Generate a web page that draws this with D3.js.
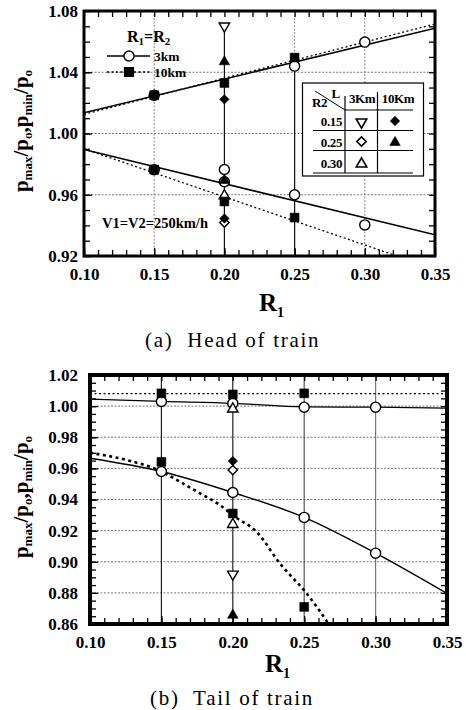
<!DOCTYPE html>
<html><head><meta charset="utf-8">
<script src="https://cdn.jsdelivr.net/npm/d3@7"></script>
<style>
body{margin:0;background:#fff}
svg{display:block}
text{font-family:"Liberation Serif","Times New Roman",serif;fill:#000}
</style>
</head><body>
<svg id="c" width="466" height="710"></svg>
<script>
// ---------------- DATA ----------------
const xTicks = [0.10, 0.15, 0.20, 0.25, 0.30, 0.35];
const headYTicks = [0.92, 0.96, 1.00, 1.04, 1.08];
const tailYTicks = [0.86, 0.88, 0.90, 0.92, 0.94, 0.96, 0.98, 1.00, 1.02];

// (a) Head of train – fitted lines [R1, p/po]
const headMax3km  = [[0.10, 1.0135], [0.35, 1.0687]];
const headMax10km = [[0.10, 1.0125], [0.35, 1.0715]];
const headMin3km  = [[0.10, 0.9895], [0.35, 0.9338]];
const headMin10km = [[0.10, 0.9900], [0.35, 0.9115]];
// markers [R1, value, shape]
const headMarkers = [
  [0.15, 1.0250, "oc"], [0.15, 1.0250, "fs"], [0.20, 1.0330, "fs"], [0.25, 1.0440, "oc"],
  [0.25, 1.0496, "fs"], [0.30, 1.0597, "oc"],
  [0.20, 1.0695, "otd"], [0.20, 1.0475, "ftu"], [0.20, 1.0223, "fd"],
  [0.15, 0.9764, "oc"], [0.15, 0.9764, "fs"],
  [0.20, 0.9765, "oc"], [0.20, 0.9685, "oc"], [0.20, 0.9700, "ftu"], [0.20, 0.9600, "otu"],
  [0.20, 0.9556, "fs"], [0.20, 0.9418, "od"], [0.20, 0.9445, "fd"],
  [0.25, 0.9600, "oc"], [0.25, 0.9451, "fs"], [0.30, 0.9403, "oc"]
];
// vertical range lines [R1, top, bottom]
const headRanges = [[0.20, 1.0695, 0.92], [0.25, 1.0496, 0.92]];

// (b) Tail of train
const tailMax3km  = [[0.10, 1.0045], [0.15, 1.0030], [0.20, 1.0018], [0.25, 0.9995], [0.30, 0.9993], [0.35, 0.9987]];
const tailMax10km = [[0.10, 1.0080], [0.35, 1.0080]];
const tailMin3km  = [[0.10, 0.9665], [0.15, 0.9580], [0.20, 0.9445], [0.25, 0.9285], [0.30, 0.9055], [0.35, 0.8796]];
const tailMin10km = [[0.10, 0.9700], [0.125, 0.9655], [0.15, 0.9580], [0.163, 0.9514], [0.177, 0.9440],
                     [0.191, 0.9364], [0.2015, 0.9289], [0.2167, 0.9192], [0.233, 0.8989],
                     [0.2517, 0.8796], [0.2669, 0.8603], [0.272, 0.853]];
const tailMarkers = [
  [0.15, 1.0030, "oc"], [0.20, 1.0018, "oc"], [0.20, 0.9988, "otu"], [0.25, 0.9993, "oc"], [0.30, 0.9993, "oc"],
  [0.15, 1.0082, "fs"], [0.20, 1.0075, "fs"], [0.25, 1.0082, "fs"],
  [0.15, 0.9580, "oc"], [0.15, 0.9642, "fs"],
  [0.20, 0.9647, "fd"], [0.20, 0.9589, "od"], [0.20, 0.9445, "oc"], [0.20, 0.9310, "fs"],
  [0.20, 0.9246, "otu"], [0.20, 0.8914, "otd"], [0.20, 0.8663, "ftu"],
  [0.25, 0.9285, "oc"], [0.25, 0.8710, "fs"], [0.30, 0.9055, "oc"]
];
const tailRanges = [[0.15, 1.02, 0.86, "#222"], [0.20, 1.02, 0.86, "#222"], [0.25, 1.02, 0.86, "#555"], [0.30, 1.02, 0.86, "#777"]];

// legend table
const tableRows = ["0.15", "0.25", "0.30"];
const tableCols = ["3Km", "10Km"];
const tableShapes = [["otd", "fd"], ["od", "ftu"], ["otu", null]];

// ---------------- DRAW ----------------
const svg = d3.select("#c");

function symbolPath(shape) {
  switch (shape) {
    case "oc": return d3.symbol(d3.symbolCircle, 80)();
    case "fs": return d3.symbol(d3.symbolSquare, 78)();
    case "otd": case "otu": case "ftu": return d3.symbol(d3.symbolTriangle, 48)();
    case "fd": case "od": return d3.symbol(d3.symbolSquare, 44)();
  }
}
function symbolRot(shape) {
  if (shape === "otd") return 180;
  if (shape === "fd" || shape === "od") return 45;
  return 0;
}
function isFilled(shape) { return shape[0] === "f"; }

function drawMarkers(g, data, x, y) {
  g.append("g").selectAll("path").data(data).join("path")
    .attr("transform", d => `translate(${x(d[0])},${y(d[1])}) rotate(${symbolRot(d[2])})` + (d[2] === "otd" || d[2].endsWith("tu") ? " translate(0,1)" : ""))
    .attr("d", d => symbolPath(d[2]))
    .attr("fill", d => isFilled(d[2]) ? "#000" : "#fff")
    .attr("stroke", "#000")
    .attr("stroke-width", d => isFilled(d[2]) ? 0.6 : 1.4);
}

function panel(cfg) {
  const { left, right, top, bottom, yDomain, yTicks, yMinorStep, id } = cfg;
  const x = d3.scaleLinear().domain([0.10, 0.35]).range([left, right]);
  const y = d3.scaleLinear().domain(yDomain).range([bottom, top]);
  const g = svg.append("g");

  g.append("clipPath").attr("id", id).append("rect")
    .attr("x", left).attr("y", top).attr("width", right - left).attr("height", bottom - top);

  // grid
  g.append("g").selectAll("line").data(cfg.hGrid).join("line")
    .attr("x1", left).attr("x2", right).attr("y1", d => y(d)).attr("y2", d => y(d))
    .attr("stroke", "#777").attr("stroke-width", 1).attr("stroke-dasharray", "2,1.5");
  g.append("g").selectAll("line").data(cfg.vGrid).join("line")
    .attr("x1", d => x(d)).attr("x2", d => x(d)).attr("y1", top).attr("y2", bottom)
    .attr("stroke", "#888").attr("stroke-width", 1).attr("stroke-dasharray", "2,1.5");
  g.append("g").selectAll("line").data(cfg.ranges).join("line")
    .attr("x1", d => x(d[0])).attr("x2", d => x(d[0])).attr("y1", d => y(d[1])).attr("y2", d => y(d[2]))
    .attr("stroke", d => d[3] || "#111").attr("stroke-width", 1.2);

  // lines
  const line = d3.line().x(d => x(d[0])).y(d => y(d[1]));
  const lg = g.append("g").attr("clip-path", `url(#${id})`);
  cfg.lines.forEach(L => {
    lg.append("path").datum(L.data)
      .attr("d", line.curve(L.curve || d3.curveLinear))
      .attr("fill", "none").attr("stroke", "#000")
      .attr("stroke-width", L.w).attr("stroke-dasharray", L.dash || null);
  });

  drawMarkers(g, cfg.markers, x, y);

  // ticks (inward)
  const xMinor = d3.range(10, 36).map(v => v / 100);
  const yMinor = d3.range(Math.round(yDomain[0] / yMinorStep), Math.round(yDomain[1] / yMinorStep) + 1).map(v => +(v * yMinorStep).toFixed(4));
  const axStyle = s => { s.select(".domain").remove(); s.selectAll("line").attr("stroke", "#000").attr("stroke-width", 1.3); };

  g.append("g").attr("transform", `translate(0,${bottom})`)
    .call(d3.axisBottom(x).tickValues(xMinor).tickSize(-6).tickFormat("")).call(axStyle);
  g.append("g").attr("transform", `translate(0,${top})`)
    .call(d3.axisTop(x).tickValues(xMinor).tickSize(-6).tickFormat("")).call(axStyle);
  g.append("g").attr("transform", `translate(${left},0)`)
    .call(d3.axisLeft(y).tickValues(yMinor).tickSize(-6).tickFormat("")).call(axStyle);
  g.append("g").attr("transform", `translate(${right},0)`)
    .call(d3.axisRight(y).tickValues(yMinor).tickSize(-6).tickFormat("")).call(axStyle);

  // labels
  const xa = g.append("g").attr("transform", `translate(0,${bottom})`)
    .call(d3.axisBottom(x).tickValues(xTicks).tickSize(-8).tickPadding(cfg.xPad).tickFormat(d3.format(".2f"))).call(axStyle);
  xa.selectAll("text").attr("font-size", 17).attr("font-weight", "bold")
    .attr("font-family", '"Liberation Serif", serif').attr("fill", "#000");
  const ya = g.append("g").attr("transform", `translate(${left},0)`)
    .call(d3.axisLeft(y).tickValues(yTicks).tickSize(-8).tickPadding(cfg.yPad).tickFormat(d3.format(".2f"))).call(axStyle);
  ya.selectAll("text").attr("font-size", 17).attr("font-weight", "bold")
    .attr("font-family", '"Liberation Serif", serif').attr("fill", "#000");

  // frame
  g.append("rect").attr("x", left).attr("y", top).attr("width", right - left).attr("height", bottom - top)
    .attr("fill", "none").attr("stroke", "#000").attr("stroke-width", cfg.frameW);

  // y title
  const yt = g.append("text").attr("transform", `translate(${cfg.yTitleX},${cfg.yTitleY}) rotate(-90)`)
    .attr("text-anchor", "middle").attr("font-size", 21).attr("font-weight", "bold");
  yt.append("tspan").text("p");
  yt.append("tspan").attr("font-size", 13).attr("dy", 4).text("max");
  yt.append("tspan").attr("dy", -4).text("/p");
  yt.append("tspan").attr("font-size", 13).attr("dy", 4).text("o");
  yt.append("tspan").attr("dy", -4).text(",p");
  yt.append("tspan").attr("font-size", 13).attr("dy", 4).text("min");
  yt.append("tspan").attr("dy", -4).text("/p");
  yt.append("tspan").attr("font-size", 13).attr("dy", 4).text("o");

  // x title
  const xt = g.append("text").attr("x", cfg.xTitleX).attr("y", cfg.xTitleY)
    .attr("font-size", 25).attr("font-weight", "bold");
  xt.append("tspan").text("R");
  xt.append("tspan").attr("font-size", 14).attr("dy", 6).text("1");

  // caption
  g.append("text").attr("x", cfg.capX).attr("y", cfg.capY).attr("font-size", 21)
    .attr("letter-spacing", "1.7px").attr("xml:space", "preserve").style("white-space", "pre").text(cfg.caption);

  return { x, y, g };
}

// -------- Panel (a)
const A = panel({
  id: "clipA", left: 84, right: 435, top: 11, bottom: 256,
  yDomain: [0.92, 1.08], yTicks: headYTicks, yMinorStep: 0.01,
  hGrid: [0.96, 1.00, 1.04], vGrid: [0.15, 0.30, 0.25], ranges: headRanges,
  lines: [
    { data: headMax3km, w: 1.5 },
    { data: headMax10km, w: 1.3, dash: "2,2.5" },
    { data: headMin3km, w: 1.5 },
    { data: headMin10km, w: 1.3, dash: "2,2.5" }
  ],
  markers: headMarkers, frameW: 3, xPad: 12, yPad: 6,
  yTitleX: 28, yTitleY: 131, xTitleX: 259, xTitleY: 311,
  capX: 145, capY: 347, caption: "(a)  Head of train"
});

// legend R1=R2
(function () {
  const g = A.g;
  const t = g.append("text").attr("x", 127).attr("y", 42).attr("font-size", 16).attr("font-weight", "bold");
  t.append("tspan").text("R");
  t.append("tspan").attr("font-size", 11).attr("dy", 3).text("1");
  t.append("tspan").attr("dy", -3).text("=R");
  t.append("tspan").attr("font-size", 11).attr("dy", 3).text("2");
  const items = [{ y: 56, shape: "oc", dash: null, label: "3km" }, { y: 72, shape: "fs", dash: "2,2.5", label: "10km" }];
  items.forEach(it => {
    g.append("line").attr("x1", 107).attr("x2", 150).attr("y1", it.y).attr("y2", it.y)
      .attr("stroke", "#000").attr("stroke-width", 1.3).attr("stroke-dasharray", it.dash);
    g.append("path").attr("transform", `translate(129,${it.y})`).attr("d", symbolPath(it.shape))
      .attr("fill", isFilled(it.shape) ? "#000" : "#fff").attr("stroke", "#000").attr("stroke-width", 1.4);
    g.append("text").attr("x", 154).attr("y", it.y + 4.5).attr("font-size", 13.5).attr("font-weight", "bold")
      .text(it.label);
  });
  g.append("text").attr("x", 102).attr("y", 228).attr("font-size", 14.5).attr("font-weight", "bold")
    .text("V1=V2=250km/h");

  // table
  const tg = g.append("g");
  tg.append("rect").attr("x", 302.5).attr("y", 83).attr("width", 121).attr("height", 93)
    .attr("fill", "#fff").attr("stroke", "#000").attr("stroke-width", 1.2);
  const L = (x1, y1, x2, y2, w) => tg.append("line").attr("x1", x1).attr("y1", y1).attr("x2", x2).attr("y2", y2)
    .attr("stroke", "#000").attr("stroke-width", w || 1.2);
  L(345, 110, 413, 110); L(313, 130.5, 413, 130.5); L(313, 150.5, 413, 150.5); L(313, 173, 413, 173);
  L(345, 96, 345, 173); L(377.5, 92, 377.5, 173);
  L(315, 91, 345, 110, 1);
  const ft = (x, y, s, anchor) => tg.append("text").attr("x", x).attr("y", y).attr("font-size", 13)
    .attr("font-weight", "bold").attr("text-anchor", anchor || "start").attr("letter-spacing", "-0.4px").text(s);
  ft(312, 107, "R2"); ft(331.5, 98, "L");
  ft(362, 103, tableCols[0], "middle"); ft(398, 103, tableCols[1], "middle");
  const rowY = [121, 141.5, 163];
  tableRows.forEach((r, i) => {
    ft(342, rowY[i] + 5, r, "end");
    tableShapes[i].forEach((s, j) => {
      if (!s) return;
      tg.append("path").attr("transform", `translate(${j ? 395 : 361.5},${rowY[i] + (s.endsWith("tu") || s === "otd" ? 1 : 0)}) rotate(${symbolRot(s)})`)
        .attr("d", symbolPath(s)).attr("fill", isFilled(s) ? "#000" : "#fff")
        .attr("stroke", "#000").attr("stroke-width", isFilled(s) ? 0.6 : 1.6);
    });
  });
})();

// -------- Panel (b)
const B = panel({
  id: "clipB", left: 90, right: 447, top: 375, bottom: 624,
  yDomain: [0.86, 1.02], yTicks: tailYTicks, yMinorStep: 0.005,
  hGrid: [0.88, 0.90, 0.92, 0.94, 0.96, 0.98, 1.00], vGrid: [], ranges: tailRanges,
  lines: [
    { data: tailMax3km, w: 1.3, curve: d3.curveMonotoneX },
    { data: tailMax10km, w: 1.2, dash: "2,2.5" },
    { data: tailMin3km, w: 1.4, curve: d3.curveMonotoneX },
    { data: tailMin10km, w: 2.6, dash: "3,3.5", curve: d3.curveMonotoneX }
  ],
  markers: tailMarkers, frameW: 4, xPad: 12, yPad: 12,
  yTitleX: 28, yTitleY: 497, xTitleX: 265, xTitleY: 672,
  capX: 150, capY: 705, caption: "(b)  Tail of train"
});
</script>
</body></html>
